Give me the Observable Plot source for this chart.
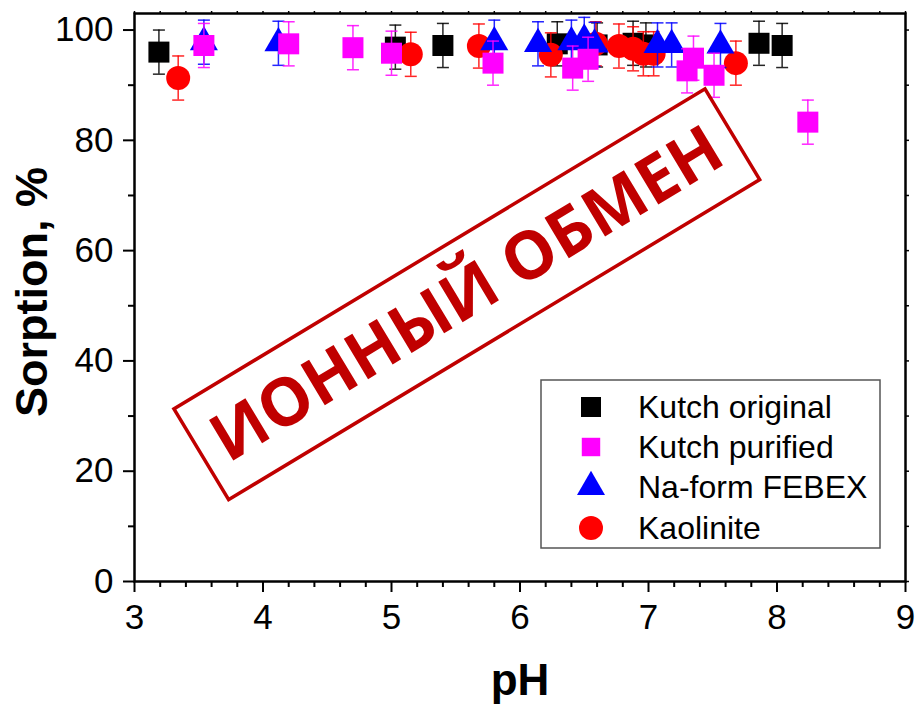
<!DOCTYPE html>
<html>
<head>
<meta charset="utf-8">
<script src="https://cdn.jsdelivr.net/npm/d3@7"></script>
<script src="https://cdn.jsdelivr.net/npm/@observablehq/plot@0.6"></script>
<style>
  body { margin: 0; background: #ffffff; }
  #chart svg { display: block; }
</style>
</head>
<body>
<div id="chart"></div>
<script>
// Sorption (%) versus pH for four clay sorbents, with ±error bars.
const seriesNames  = ["Kutch original", "Kutch purified", "Na-form FEBEX", "Kaolinite"];
const seriesColors = ["#000000", "#ff00ff", "#0000ff", "#ff0000"];
const seriesSymbols = ["square", "square", "triangle", "circle"];

const kutchOriginalPH       = [3.19, 5.03, 5.40, 6.29, 6.60, 6.88, 6.98, 7.86, 8.04];
const kutchOriginalSorption = [96.0, 96.9, 97.2, 97.5, 97.3, 97.6, 97.3, 97.6, 97.2];

const kutchPurifiedPH       = [3.54, 4.20, 4.70, 5.00, 5.79, 6.41, 6.53, 7.30, 7.35, 7.51, 8.24];
const kutchPurifiedSorption = [97.2, 97.5, 96.8, 95.8, 94.0, 93.1, 94.7, 92.6, 94.9, 91.8, 83.3];

const febexPH       = [3.54, 4.12, 5.80, 6.14, 6.40, 6.50, 6.58, 7.07, 7.18, 7.56];
const febexSorption = [97.8, 97.6, 97.8, 97.5, 97.8, 98.3, 97.4, 97.3, 97.3, 97.2];

const kaolinitePH       = [3.34, 5.15, 5.68, 6.24, 6.59, 6.77, 6.88, 6.96, 7.04, 7.68];
const kaoliniteSorption = [91.3, 95.6, 97.1, 95.5, 97.5, 97.1, 96.6, 95.7, 95.7, 94.0];

const errorHalf = 4;

const xMajorTicks = [3, 4, 5, 6, 7, 8, 9];
const yMajorTicks = [0, 20, 40, 60, 80, 100];

const stampText = "ИОННЫЙ ОБМЕН";
const stampPH = 5.59, stampSorption = 52.0, stampAngle = -31.07;

// Build rows per series
function rows(phs, vals, k) {
  return phs.map((p, i) => ({ pH: p, s: vals[i], series: seriesNames[k] }));
}
const data = [
  rows(kutchOriginalPH, kutchOriginalSorption, 0),
  rows(kutchPurifiedPH, kutchPurifiedSorption, 1),
  rows(febexPH, febexSorption, 2),
  rows(kaolinitePH, kaoliniteSorption, 3)
];

const xMinor = d3.range(3, 9.001, 0.2).map(v => +v.toFixed(1)).filter(v => !xMajorTicks.includes(v));
const yMinor = d3.range(10, 100, 20);
const xAll = d3.range(3, 9.001, 0.2).map(v => +v.toFixed(1));
const yAll = d3.range(0, 101, 10);

// Horizontal cap for error bars
const capSymbol = { draw(ctx) { ctx.moveTo(-6, 0); ctx.lineTo(6, 0); } };

const sizes = { square: 11.85, triangle: 10.4, circle: 12 };

// Draw order: original, kaolinite, FEBEX, purified
const order = [0, 3, 2, 1];
const seriesMarks = order.flatMap(k => {
  const d = data[k];
  const c = seriesColors[k];
  return [
    Plot.ruleX(d, { x: "pH", y1: r => r.s - errorHalf, y2: r => r.s + errorHalf, stroke: c, strokeWidth: 1.5, strokeOpacity: 0.85 }),
    Plot.dot(d, { x: "pH", y: r => r.s + errorHalf, symbol: capSymbol, fill: "none", stroke: c, strokeWidth: 1.5, strokeOpacity: 0.85 }),
    Plot.dot(d, { x: "pH", y: r => r.s - errorHalf, symbol: capSymbol, fill: "none", stroke: c, strokeWidth: 1.5, strokeOpacity: 0.85 }),
    Plot.dot(d, { x: "pH", y: "s", symbol: seriesSymbols[k], r: sizes[seriesSymbols[k]], fill: c, stroke: "none" })
  ];
});

const font = "'Liberation Sans', Arial, sans-serif";

const plot = Plot.plot({
  width: 916,
  height: 704,
  marginLeft: 134,
  marginRight: 11,
  marginTop: 13,
  marginBottom: 123,
  style: { fontFamily: font, background: "#ffffff", color: "#000000", overflow: "visible" },
  x: { domain: [3, 9] },
  y: { domain: [0, 103] },
  marks: [
    Plot.axisX({ ticks: xMajorTicks, tickSize: 11, tickPadding: 12, fontSize: 35, strokeWidth: 2, tickFormat: d => String(d), label: null }),
    Plot.axisX({ ticks: xMinor, tickSize: 6, strokeWidth: 2, tickFormat: () => "", label: null }),
    Plot.axisX({ anchor: "top", ticks: xAll, tickSize: 3, strokeWidth: 1.5, tickFormat: () => "", label: null }),
    Plot.axisY({ ticks: yMajorTicks, tickSize: 11, tickPadding: 10, fontSize: 35, strokeWidth: 2, tickFormat: d => String(d), label: null }),
    Plot.axisY({ ticks: yMinor, tickSize: 6, strokeWidth: 2, tickFormat: () => "", label: null }),
    Plot.axisY({ anchor: "right", ticks: yAll, tickSize: 3, strokeWidth: 1.5, tickFormat: () => "", label: null }),
    ...seriesMarks,
    Plot.text([stampText], {
      x: () => stampPH, y: () => stampSorption, text: d => d,
      rotate: stampAngle, fontSize: 66, fontWeight: "bold",
      fontFamily: "'Open Sans', sans-serif", fill: "#c00000", textAnchor: "middle", lineAnchor: "middle"
    }),
    Plot.frame({ stroke: "#000000", strokeWidth: 2.5 })
  ]
});

document.getElementById("chart").appendChild(plot);

const svg = d3.select(plot);
const xs = plot.scale("x"), ys = plot.scale("y");

// Stamp border
const cx = xs.apply(stampPH), cy = ys.apply(stampSorption);
svg.append("rect")
  .attr("x", -310).attr("y", -53).attr("width", 620).attr("height", 106)
  .attr("fill", "none").attr("stroke", "#c00000").attr("stroke-width", 3.5)
  .attr("transform", `translate(${cx},${cy}) rotate(${stampAngle})`);

// Axis titles
svg.append("text")
  .attr("x", 520).attr("y", 695)
  .attr("text-anchor", "middle")
  .attr("font-family", font).attr("font-size", 44).attr("font-weight", "bold")
  .text("pH");
svg.append("text")
  .attr("transform", "translate(47,292) rotate(-90)")
  .attr("text-anchor", "middle")
  .attr("font-family", font).attr("font-size", 45).attr("font-weight", "bold")
  .text("Sorption, %");

// Legend
const lg = svg.append("g").attr("transform", "translate(541,380)");
lg.append("rect").attr("x", 0).attr("y", 0).attr("width", 339).attr("height", 168)
  .attr("fill", "#ffffff").attr("stroke", "#555555").attr("stroke-width", 1.5);
const legendRowsY = [27, 67, 107, 148];
const legendSizes = [{ t: "square", s: 400 }, { t: "square", s: 340 }, { t: "triangle", s: 340 }, { t: "circle", s: 452 }];
seriesNames.forEach((name, i) => {
  const sym = legendSizes[i].t === "square" ? d3.symbolSquare : legendSizes[i].t === "triangle" ? d3.symbolTriangle : d3.symbolCircle;
  lg.append("path")
    .attr("d", d3.symbol(sym, legendSizes[i].s)())
    .attr("transform", `translate(50,${legendRowsY[i]})`)
    .attr("fill", seriesColors[i]);
  lg.append("text")
    .attr("x", 97).attr("y", legendRowsY[i] + 11)
    .attr("text-anchor", "start")
    .attr("font-family", font).attr("font-size", 32)
    .text(name);
});
</script>
</body>
</html>
